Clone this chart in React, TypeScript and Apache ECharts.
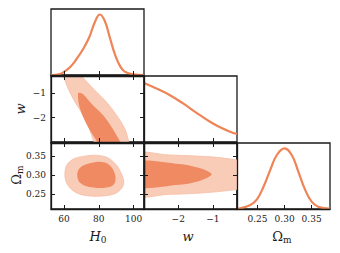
import React, { useEffect, useRef } from 'react';
import * as echarts from 'echarts';

// axis ranges and ticks
const h0Range = [52.5, 106];
const wRange = [-2.99, -0.3];
const omRange = [0.212, 0.384];
const h0Ticks = [60, 80, 100];
const wTicks = [-2, -1];
const omTicks = [0.25, 0.3, 0.35];

// 1D marginal curves (relative density)
const h0Curve = [
  [52.5, 0], [57.7, 0.016], [60.1, 0.055], [63.4, 0.126], [67.2, 0.262], [71.0, 0.426],
  [74.5, 0.617], [77.7, 0.863], [80.6, 0.99], [83.5, 0.88],
  [86.3, 0.617], [89.2, 0.344], [92.1, 0.153], [94.9, 0.055], [99.7, 0.01], [106, 0],
];
const wCurve = [
  [-2.99, 0.894], [-2.63, 0.81], [-2.24, 0.709], [-1.86, 0.584], [-1.47, 0.442],
  [-1.08, 0.306], [-0.79, 0.222], [-0.5, 0.155], [-0.3, 0.121],
];
const omCurve = [
  [0.2127, 0.0], [0.218, 0.01], [0.2366, 0.06], [0.2489, 0.146], [0.261, 0.338],
  [0.2734, 0.59], [0.2857, 0.818], [0.2997, 0.919], [0.3132, 0.818], [0.3254, 0.566],
  [0.3377, 0.298], [0.35, 0.111], [0.3622, 0.035], [0.3836, 0.005],
];

// 2D contours [x, y]
const h0wOuter = [
  [58.5, -0.1], [67.5, -0.1], [70.1, -0.3], [76.8, -0.82], [84.4, -1.36], [90.2, -1.9],
  [94.9, -2.44], [97.4, -3.0], [98.3, -3.2], [78.2, -3.2], [77.2, -3.0], [74.5, -2.44],
  [71.0, -1.9], [66.3, -1.36], [62.4, -0.82], [59.6, -0.3],
];
const h0wInner = [
  [68.0, -1.09], [68.4, -0.98], [71.0, -1.04], [75.8, -1.43], [82.5, -1.9], [87.9, -2.44],
  [92.5, -3.0], [94.1, -3.2], [81.1, -3.2], [79.3, -3.0], [74.9, -2.51], [71.0, -1.97], [68.7, -1.5],
];
const h0omOuter = [
  [60.5, 0.304], [61.5, 0.326], [65.3, 0.342], [71.0, 0.349], [78.7, 0.352], [85.4, 0.345],
  [90.2, 0.326], [93.0, 0.304], [94.4, 0.282], [93.0, 0.265], [89.2, 0.252], [82.5, 0.246],
  [74.9, 0.246], [68.2, 0.252], [63.4, 0.267], [61.1, 0.284],
];
const h0omInner = [
  [67.6, 0.304], [68.7, 0.317], [72.0, 0.327], [77.7, 0.334], [83.5, 0.333], [87.3, 0.321],
  [89.2, 0.304], [89.6, 0.287], [88.2, 0.274], [84.4, 0.268], [78.7, 0.267], [73.0, 0.271],
  [69.1, 0.281], [67.8, 0.293],
];
const womOuter = [
  [-3.3, 0.3527], [-2.245, 0.3527], [-1.47, 0.35], [-0.889, 0.3467], [-0.29, 0.3397], [-0.1, 0.3375],
  [-0.1, 0.265], [-0.29, 0.263], [-0.889, 0.257], [-1.47, 0.253], [-2.245, 0.2503], [-3.3, 0.2503],
];
const womInner = [
  [-3.3, 0.3327], [-1.955, 0.3293], [-1.47, 0.3207], [-1.16, 0.311], [-1.034, 0.3024],
  [-1.16, 0.2936], [-1.47, 0.2831], [-1.955, 0.2753], [-3.3, 0.272],
];

const FONT = 'DejaVu Serif';
const INK = '#1a1a1a';
const LINE = '#ef8456';
const DARK = '#ef8a62';
const LIGHT = '#f9ccb7';

const h0Fmt = (v: number) => String(Math.round(v));
const wFmt = (v: number) => (v < 0 ? '\u2212' : '') + Math.abs(v);
const omFmt = (v: number) => v.toFixed(2);

function xAx(gi: number, range: number[], ticks: number[], fmt: any, pos: string, labels: boolean) {
  return {
    type: 'value', gridIndex: gi, min: range[0], max: range[1], position: pos, z: 10,
    axisLine: { show: true, onZero: false, lineStyle: { color: INK, width: 1.3 } },
    axisTick: { show: true, inside: true, length: 4, customValues: ticks, lineStyle: { color: INK, width: 1 } },
    axisLabel: { show: labels, customValues: ticks, formatter: fmt, fontFamily: FONT, fontSize: 9, color: INK, margin: 5 },
    splitLine: { show: false },
  };
}
function hiddenY(gi: number, max: number) {
  return { type: 'value', gridIndex: gi, min: 0, max, show: false, splitLine: { show: false } };
}
function poly(xi: number, yi: number, pts: number[][], fill: string, stroke?: string) {
  return {
    type: 'custom', xAxisIndex: xi, yAxisIndex: yi, clip: true, z: 2,
    data: [pts[0]],
    renderItem: (_p: any, api: any) => ({
      type: 'polygon',
      shape: { points: pts.map((p) => api.coord(p)), smooth: 0.35 },
      style: { fill, stroke: stroke || 'none', lineWidth: stroke ? 0.8 : 0 },
    }),
  };
}
function curve(xi: number, yi: number, pts: number[][]) {
  return {
    type: 'line', xAxisIndex: xi, yAxisIndex: yi, data: pts, smooth: 0.45,
    symbol: 'none', clip: false, lineStyle: { color: LINE, width: 2.2 }, z: 3,
  };
}

export default function App() {
  const ref = useRef<HTMLDivElement>(null);
  useEffect(() => {
    if (!ref.current) return;
    const chart = echarts.init(ref.current, undefined, { renderer: 'svg' });
    const gridBase = { show: true, borderColor: INK, borderWidth: 1.3, backgroundColor: 'transparent', containLabel: false };
    const L = [51, 144, 237];
    const T = [9, 76, 143];
    const W = 93;
    const H = 66;
    const grids = [
      { left: L[0], top: T[0] },
      { left: L[0], top: T[1] },
      { left: L[0], top: T[2] },
      { left: L[1], top: T[1] },
      { left: L[1], top: T[2] },
      { left: L[2], top: T[2] },
    ].map((g) => ({ ...gridBase, ...g, width: W, height: H }));

    const xAxis = [
      xAx(0, h0Range, h0Ticks, h0Fmt, 'bottom', false),
      xAx(1, h0Range, h0Ticks, h0Fmt, 'bottom', false),
      xAx(1, h0Range, h0Ticks, h0Fmt, 'top', false),
      xAx(2, h0Range, h0Ticks, h0Fmt, 'bottom', true),
      xAx(2, h0Range, h0Ticks, h0Fmt, 'top', false),
      xAx(3, wRange, wTicks, wFmt, 'bottom', false),
      xAx(4, wRange, wTicks, wFmt, 'bottom', true),
      xAx(4, wRange, wTicks, wFmt, 'top', false),
      xAx(5, omRange, omTicks, omFmt, 'bottom', true),
    ];
    const yAxis = [
      hiddenY(0, 1.08),
      xAx(1, wRange, wTicks, wFmt, 'left', true),
      xAx(1, wRange, wTicks, wFmt, 'right', false),
      xAx(2, omRange, omTicks, omFmt, 'left', true),
      xAx(2, omRange, omTicks, omFmt, 'right', false),
      hiddenY(3, 1),
      xAx(4, omRange, omTicks, omFmt, 'left', false),
      xAx(4, omRange, omTicks, omFmt, 'right', false),
      hiddenY(5, 1),
    ];
    const series = [
      curve(0, 0, h0Curve),
      poly(1, 1, h0wOuter, LIGHT, '#f6bea4'),
      poly(1, 1, h0wInner, DARK),
      poly(3, 3, h0omOuter, LIGHT, '#f6bea4'),
      poly(3, 3, h0omInner, DARK),
      curve(5, 5, wCurve),
      poly(6, 6, womOuter, LIGHT, '#f6bea4'),
      poly(6, 6, womInner, DARK),
      curve(8, 8, omCurve),
    ];
    const nameStyle = (text: string) => ({
      text,
      align: 'center',
      verticalAlign: 'middle',
      fill: INK,
      rich: {
        i: { fontFamily: FONT, fontStyle: 'italic', fontSize: 13, fill: INK },
        o: { fontFamily: FONT, fontSize: 13, fill: INK },
        s: { fontFamily: FONT, fontSize: 9, fill: INK, padding: [7, 0, 0, 0] },
      },
    });
    const graphic = [
      { type: 'text', x: 98, y: 236, style: nameStyle('{i|H}{s|0}') },
      { type: 'text', x: 188, y: 236, style: nameStyle('{i|w}') },
      { type: 'text', x: 282, y: 236, style: nameStyle('{o|Ω}{s|m}') },
      { type: 'text', x: 20, y: 109, rotation: Math.PI / 2, style: nameStyle('{i|w}') },
      { type: 'text', x: 16, y: 175, rotation: Math.PI / 2, style: nameStyle('{o|Ω}{s|m}') },
    ];
    chart.setOption({
      animation: false,
      backgroundColor: '#ffffff',
      grid: grids,
      xAxis,
      yAxis,
      series,
      graphic,
    });
    return () => chart.dispose();
  }, []);
  return <div ref={ref} style={{ position: 'fixed', left: 0, top: 0, width: 340, height: 253 }} />;
}
